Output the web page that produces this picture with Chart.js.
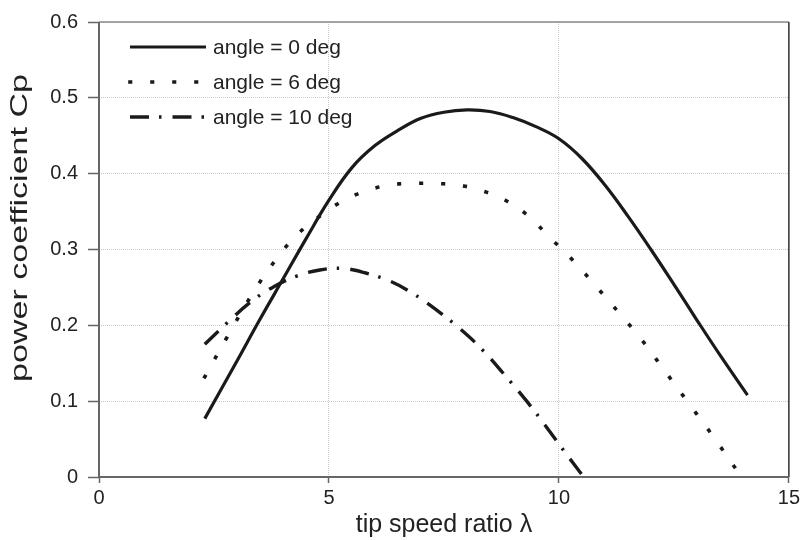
<!DOCTYPE html>
<html lang="en">
<head>
    <meta charset="UTF-8">
    <title>power coefficient Cp</title>
    <script src="https://cdn.jsdelivr.net/npm/chart.js@4.4.1/dist/chart.umd.min.js"></script>
    <style>
        html, body { margin: 0; padding: 0; background: #fff; }
        #wrap { width: 803px; height: 540px; }
    </style>
</head>
<body>
<div id="wrap"><canvas id="cpChart"></canvas></div>

<script>
// tip speed ratio (x) and power coefficient (y)
const lambda0 = [2.3, 3.0, 3.5, 4.0, 4.5, 5.0, 5.5, 6.0, 6.5, 7.0, 7.5, 8.0, 8.5, 9.0, 9.5, 10.0, 10.5, 11.0, 11.5, 12.0, 12.5, 13.0, 13.5, 14.1];
const cp0 = [0.077, 0.153, 0.208, 0.261, 0.314, 0.365, 0.408, 0.437, 0.457, 0.473, 0.481, 0.484, 0.482, 0.474, 0.462, 0.446, 0.42, 0.385, 0.344, 0.3, 0.254, 0.207, 0.161, 0.108];

const lambda6 = [2.3, 2.8, 3.3, 3.8, 4.3, 4.8, 5.3, 5.8, 6.3, 6.8, 7.3, 7.8, 8.3, 8.8, 9.3, 9.8, 10.3, 10.8, 11.3, 11.8, 12.3, 12.8, 13.3, 13.97];
const cp6 = [0.132, 0.186, 0.238, 0.283, 0.319, 0.344, 0.364, 0.377, 0.385, 0.387, 0.387, 0.385, 0.378, 0.366, 0.346, 0.316, 0.286, 0.252, 0.217, 0.181, 0.14, 0.099, 0.058, 0.0];

const lambda10 = [2.3, 2.8, 3.3, 3.8, 4.3, 4.8, 5.3, 5.8, 6.3, 6.8, 7.3, 7.8, 8.3, 8.8, 9.3, 9.8, 10.3, 10.54];
const cp10 = [0.175, 0.204, 0.231, 0.251, 0.265, 0.273, 0.275, 0.269, 0.259, 0.243, 0.222, 0.198, 0.17, 0.136, 0.1, 0.06, 0.019, 0.0];

const seriesNames = ['angle = 0 deg', 'angle = 6 deg', 'angle = 10 deg'];
const xTicks = [0, 5, 10, 15];
const yTicks = [0, 0.1, 0.2, 0.3, 0.4, 0.5, 0.6];
const tituloY = 'power coefficient Cp';

function pontos(xs, ys) {
    return xs.map((x, i) => ({ x: x, y: ys[i] }));
}

const estilos = [
    { borderWidth: 3.2, borderDash: [], borderCapStyle: 'butt' },
    { borderWidth: 3.6, borderDash: [0.5, 21.5], borderCapStyle: 'square' },
    { borderWidth: 3.4, borderDash: [19, 10, 2.5, 11], borderCapStyle: 'butt' }
];

const dadosSeries = [pontos(lambda0, cp0), pontos(lambda6, cp6), pontos(lambda10, cp10)];

const fonte = '"Liberation Sans", Arial, sans-serif';

// legend drawn inside the plot area, top left
const legendaInterna = {
    id: 'legendaInterna',
    afterDatasetsDraw(chart) {
        const ctx = chart.ctx;
        const a = chart.chartArea;
        ctx.save();
        seriesNames.forEach((nome, i) => {
            const y = a.top + 25 + i * 35;
            const x0 = a.left + 31;
            ctx.beginPath();
            ctx.strokeStyle = '#1a1a1a';
            ctx.lineWidth = estilos[i].borderWidth;
            ctx.lineCap = estilos[i].borderCapStyle;
            ctx.setLineDash(estilos[i].borderDash);
            ctx.moveTo(x0, y);
            ctx.lineTo(x0 + 76, y);
            ctx.stroke();
            ctx.setLineDash([]);
            ctx.fillStyle = '#222';
            ctx.font = '21px ' + fonte;
            ctx.textAlign = 'left';
            ctx.textBaseline = 'middle';
            ctx.fillText(nome, x0 + 83, y + 1);
        });
        ctx.restore();
    }
};

// y axis title: the original is drawn longer than its letter height, so stretch it a little
const tituloVertical = {
    id: 'tituloVertical',
    afterDraw(chart) {
        const ctx = chart.ctx;
        ctx.save();
        ctx.translate(20, 228);
        ctx.rotate(-Math.PI / 2);
        ctx.scale(1.42, 1);
        ctx.font = '24px ' + fonte;
        ctx.fillStyle = '#222';
        ctx.textAlign = 'center';
        ctx.textBaseline = 'middle';
        ctx.fillText(tituloY, 0, 0);
        ctx.restore();
    }
};

// frame round the plot area
const moldura = {
    id: 'moldura',
    beforeDatasetsDraw(chart) {
        const ctx = chart.ctx;
        const a = chart.chartArea;
        ctx.save();
        ctx.lineWidth = 1.5;
        ctx.strokeStyle = '#8a8a8a';
        ctx.beginPath();
        ctx.moveTo(a.left, a.top);
        ctx.lineTo(a.right, a.top);
        ctx.stroke();
        ctx.strokeStyle = '#333';
        ctx.beginPath();
        ctx.moveTo(a.right, a.top);
        ctx.lineTo(a.right, a.bottom);
        ctx.stroke();
        ctx.lineWidth = 2;
        ctx.strokeStyle = '#666';
        ctx.beginPath();
        ctx.moveTo(a.left, a.top);
        ctx.lineTo(a.left, a.bottom);
        ctx.lineTo(a.right, a.bottom);
        ctx.stroke();
        ctx.restore();
    }
};

const config = {
    type: 'line',
    data: {
        datasets: dadosSeries.map((d, i) => ({
            label: seriesNames[i],
            data: d,
            borderColor: '#1a1a1a',
            borderWidth: estilos[i].borderWidth,
            borderDash: estilos[i].borderDash,
            borderCapStyle: estilos[i].borderCapStyle,
            pointRadius: 0,
            fill: false,
            tension: 0.4
        }))
    },
    options: {
        responsive: true,
        maintainAspectRatio: false,
        animation: false,
        layout: { padding: { top: 20, right: 13, left: 0, bottom: 0 } },
        plugins: {
            legend: { display: false },
            tooltip: { enabled: false }
        },
        scales: {
            x: {
                type: 'linear',
                min: 0,
                max: 15,
                afterBuildTicks: (s) => { s.ticks = xTicks.map(v => ({ value: v })); },
                afterFit: (s) => { s.height = 63; },
                border: { display: false, dash: [1, 1] },
                grid: { color: '#c8c8c8', lineWidth: 1, tickLength: 6, tickColor: '#666', tickWidth: 1.5 },
                ticks: {
                    color: '#222',
                    padding: 3,
                    font: { family: fonte, size: 20 },
                    maxRotation: 0
                },
                title: {
                    display: true,
                    text: 'tip speed ratio λ',
                    color: '#222',
                    padding: { top: 0, bottom: 0 },
                    font: { family: fonte, size: 25 }
                }
            },
            y: {
                min: 0,
                max: 0.6,
                afterBuildTicks: (s) => { s.ticks = yTicks.map(v => ({ value: v })); },
                afterFit: (s) => { s.width = 99; },
                border: { display: false, dash: [1, 1] },
                grid: { color: '#c8c8c8', lineWidth: 1, tickLength: 11, tickColor: '#666', tickWidth: 1.5 },
                ticks: {
                    color: '#222',
                    padding: 10,
                    font: { family: fonte, size: 20 },
                    callback: (v) => v === 0 ? '0' : v.toFixed(1)
                },
                title: { display: false }
            }
        }
    },
    plugins: [moldura, legendaInterna, tituloVertical]
};

let meuGrafico = new Chart(document.getElementById('cpChart'), config);
</script>
</body>
</html>
